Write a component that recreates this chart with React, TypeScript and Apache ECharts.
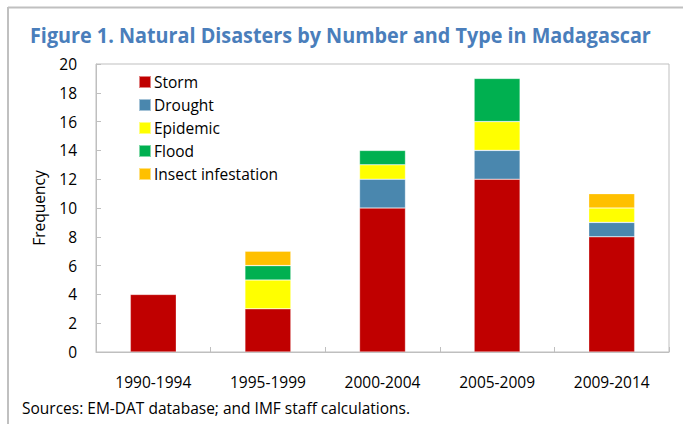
import React, { useEffect, useRef } from "react";
import * as echarts from "echarts";

const categories = ["1990-1994", "1995-1999", "2000-2004", "2005-2009", "2009-2014"];
const storm = [4, 3, 10, 12, 8];
const drought = [0, 0, 2, 2, 1];
const epidemic = [0, 2, 1, 2, 1];
const flood = [0, 1, 1, 3, 0];
const insect = [0, 1, 0, 0, 1];
const seriesNames = ["Storm", "Drought", "Epidemic", "Flood", "Insect infestation"];
const seriesColors = ["#C00000", "#4A87AE", "#FFFF00", "#00B050", "#FFC000"];
const titleText = "Figure 1. Natural Disasters by Number and Type in Madagascar";
const sourceText = "Sources: EM-DAT database; and IMF staff calculations.";

const FONT = "'Open Sans', 'Noto Sans', sans-serif";
const FS = 15.5;

export default function App() {
  const ref = useRef<HTMLDivElement>(null);
  useEffect(() => {
    if (!ref.current) return;
    const chart = echarts.init(ref.current, null, { renderer: "svg" });
    const dataSets = [storm, drought, epidemic, flood, insect];
    chart.setOption({
      animation: false,
      backgroundColor: "#ffffff",
      grid: {
        left: 96,
        top: 64,
        width: 573,
        height: 288,
        show: true,
        borderColor: "#bfbfbf",
        borderWidth: 1,
      },
      legend: {
        orient: "vertical",
        left: 133,
        top: 69,
        itemWidth: 12,
        itemHeight: 12,
        itemGap: 7,
        icon: "rect",
        data: seriesNames,
        textStyle: { fontFamily: FONT, fontSize: FS, color: "#000", padding: [0, 0, 0, -2] },
      },
      xAxis: {
        type: "category",
        data: categories,
        axisLine: { show: true, lineStyle: { color: "#bfbfbf", width: 1 } },
        axisTick: { show: true, inside: true, length: 5, lineStyle: { color: "#bfbfbf" } },
        axisLabel: { fontFamily: FONT, fontSize: FS, color: "#000", margin: 22 },
      },
      yAxis: {
        type: "value",
        min: 0,
        max: 20,
        interval: 2,
        name: "Frequency",
        nameLocation: "middle",
        nameGap: 49,
        nameTextStyle: { fontFamily: FONT, fontSize: FS, color: "#000" },
        splitLine: { show: false },
        axisLine: { show: true, lineStyle: { color: "#bfbfbf", width: 1 } },
        axisTick: { show: true, inside: true, length: 5, lineStyle: { color: "#bfbfbf" } },
        axisLabel: { fontFamily: FONT, fontSize: FS, color: "#000", margin: 19 },
      },
      series: seriesNames.map((name, i) => ({
        name,
        type: "bar",
        stack: "total",
        barWidth: 46,
        data: dataSets[i].map((v) => (v === 0 ? null : v)),
        itemStyle: {
          color: seriesColors[i],
          borderColor: "rgba(255,255,255,0.5)",
          borderWidth: 0.6,
        },
      })),
      graphic: [
        {
          type: "line",
          shape: { x1: 8, y1: 7.5, x2: 683, y2: 7.5 },
          style: { stroke: "#c0c0c0", lineWidth: 2 },
        },
        {
          type: "line",
          shape: { x1: 8, y1: 7, x2: 8, y2: 424 },
          style: { stroke: "#c0c0c0", lineWidth: 2 },
        },
        {
          type: "text",
          x: 30,
          y: 24,
          scaleX: 0.9,
          style: {
            text: titleText,
            fontFamily: FONT,
            fontWeight: "bold",
            fontSize: 22,
            fill: "#4A7EBB",
          },
        },
        {
          type: "text",
          x: 22,
          y: 400,
          style: {
            text: sourceText,
            fontFamily: FONT,
            fontSize: FS,
            fill: "#000",
          },
        },
      ],
    });
    return () => chart.dispose();
  }, []);
  return (
    <div
      ref={ref}
      style={{ position: "fixed", left: 0, top: 0, width: 683, height: 424 }}
    />
  );
}
